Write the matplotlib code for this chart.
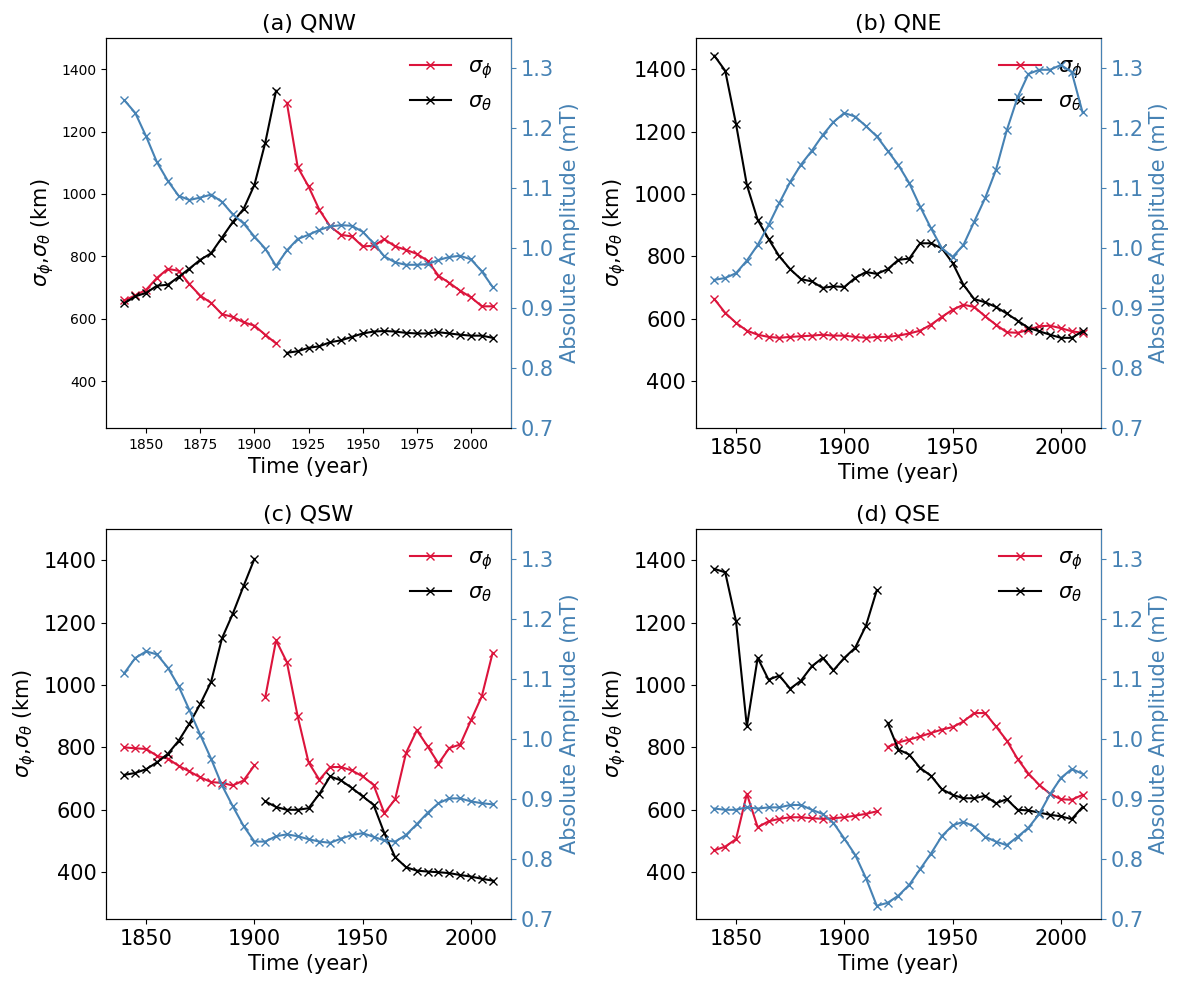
import numpy as np
import matplotlib
matplotlib.use('Agg')
from matplotlib import pyplot as plt


years = np.arange(1840, 2011, 5)

# (a) QNW
qnw_phi = [659, 675, 693, 731, 760, 754, 711, 674, 651, 615, 606, 589, 578, 549, 521,
           1292, 1086, 1024, 949, 896, 869, 864, 832, 834, 855, 832, 821, 808, 786, 738,
           715, 690, 669, 640, 640]
qnw_theta = [650, 672, 683, 706, 709, 734, 761, 789, 810, 860, 910, 952, 1029, 1164, 1331,
             491, 496, 507, 512, 525, 531, 542, 553, 559, 561, 559, 555, 553, 553, 557,
             553, 549, 546, 546, 539]
qnw_amp = [1.246, 1.225, 1.186, 1.143, 1.112, 1.087, 1.080, 1.084, 1.089, 1.077, 1.056,
           1.041, 1.019, 0.999, 0.970, 0.996, 1.015, 1.022, 1.030, 1.036, 1.038, 1.037,
           1.027, 1.008, 0.986, 0.976, 0.972, 0.972, 0.973, 0.980, 0.985, 0.987, 0.981,
           0.961, 0.935]

# (b) QNE
qne_phi = [663, 619, 587, 562, 549, 542, 539, 542, 544, 546, 549, 546, 546, 542, 539,
           542, 542, 546, 553, 562, 581, 606, 629, 645, 638, 608, 581, 557, 555, 565,
           576, 578, 570, 560, 555]
qne_theta = [1443, 1395, 1224, 1029, 917, 856, 800, 759, 727, 720, 699, 704, 702, 731, 750,
             744, 759, 789, 793, 842, 842, 826, 779, 709, 663, 653, 638, 617, 594, 571,
             560, 549, 539, 539, 560]
qne_amp = [0.947, 0.950, 0.958, 0.979, 1.005, 1.038, 1.075, 1.110, 1.139, 1.162, 1.188,
           1.210, 1.225, 1.219, 1.203, 1.186, 1.162, 1.138, 1.108, 1.069, 1.033, 1.000,
           0.985, 1.005, 1.044, 1.083, 1.130, 1.196, 1.251, 1.290, 1.297, 1.297, 1.305,
           1.293, 1.226]

# (c) QSW
qsw_phi = [800, 797, 795, 773, 764, 741, 723, 704, 689, 686, 678, 694, 742,
           960, 1143, 1073, 899, 752, 696, 737, 737, 726, 707, 680, 589, 634, 782, 855,
           803, 748, 798, 809, 887, 964, 1103]
qsw_theta = [712, 718, 730, 752, 779, 821, 876, 939, 1010, 1149, 1228, 1317, 1404,
             627, 609, 600, 600, 605, 651, 707, 694, 670, 643, 616, 525, 448, 416, 405,
             402, 400, 397, 391, 386, 379, 373]
qsw_amp = [1.110, 1.135, 1.146, 1.141, 1.119, 1.088, 1.048, 1.007, 0.967, 0.923, 0.888,
           0.855, 0.829, 0.829, 0.838, 0.841, 0.838, 0.833, 0.829, 0.827, 0.834, 0.840,
           0.843, 0.837, 0.831, 0.829, 0.840, 0.858, 0.877, 0.893, 0.901, 0.901, 0.896,
           0.893, 0.891]

# (d) QSE
qse_phi = [470, 482, 506, 651, 544, 563, 571, 576, 576, 573, 571, 573, 576, 581, 587, 595,
           801, 816, 825, 835, 846, 857, 865, 883, 910, 910, 867, 822, 763, 716, 680,
           651, 634, 632, 648]
qse_theta = [1372, 1361, 1204, 867, 1087, 1017, 1030, 988, 1014, 1060, 1087, 1047, 1087,
             1119, 1190, 1304, 878, 793, 777, 734, 709, 666, 648, 637, 637, 645, 621, 634,
             600, 598, 591, 584, 579, 570, 609]
qse_amp = [0.884, 0.882, 0.882, 0.886, 0.884, 0.886, 0.886, 0.890, 0.890, 0.882, 0.875,
           0.860, 0.834, 0.807, 0.768, 0.722, 0.727, 0.739, 0.757, 0.783, 0.809, 0.838,
           0.856, 0.862, 0.854, 0.837, 0.829, 0.823, 0.837, 0.852, 0.875, 0.908, 0.935,
           0.950, 0.942]

titles = ['(a) QNW', '(b) QNE', '(c) QSW', '(d) QSE']
phis = [qnw_phi, qne_phi, qsw_phi, qse_phi]
thetas = [qnw_theta, qne_theta, qsw_theta, qse_theta]
amps = [qnw_amp, qne_amp, qsw_amp, qse_amp]
# last year before the two sigma curves break (None: no break)
breaks = [1910, None, 1900, 1915]

red = '#DC143C'
blue = '#4682B4'
fs = 15

fig = plt.figure(figsize=(11.77, 9.81), dpi=100)
boxes = [(0.0901, 0.5637), (0.5913, 0.5637), (0.0901, 0.0632), (0.5913, 0.0632)]

for i in range(4):
    ax = fig.add_axes([boxes[i][0], boxes[i][1], 0.3441, 0.3976])
    phi = np.array(phis[i], dtype=float)
    theta = np.array(thetas[i], dtype=float)
    if breaks[i] is None:
        segs = [years >= 0]
    else:
        segs = [years <= breaks[i], years > breaks[i]]
    for k, m in enumerate(segs):
        ax.plot(years[m], phi[m], color=red, marker='x', lw=1.5,
                label=r'$\sigma_\phi$' if k == 0 else None)
        ax.plot(years[m], theta[m], color='k', marker='x', lw=1.5,
                label=r'$\sigma_\theta$' if k == 0 else None)
    ax.set_ylim(250, 1500)
    ax.set_yticks([400, 600, 800, 1000, 1200, 1400])
    if i == 0:
        ax.set_xticks([1850, 1875, 1900, 1925, 1950, 1975, 2000])
        ax.tick_params(labelsize=10)
    else:
        ax.set_xticks([1850, 1900, 1950, 2000])
        ax.tick_params(labelsize=fs)
    ax.set_xlabel('Time (year)', fontsize=fs)
    ax.set_ylabel(r'$\sigma_\phi$,$\sigma_\theta$ (km)', fontsize=fs)
    ax.set_title(titles[i], fontsize=fs + 1)
    ax.legend(loc='upper right', frameon=False, fontsize=fs)

    ax2 = ax.twinx()
    ax2.plot(years, amps[i], color=blue, marker='x', lw=1.5)
    ax2.set_ylim(0.7, 1.35)
    ax2.set_yticks([0.7, 0.8, 0.9, 1.0, 1.1, 1.2, 1.3])
    ax2.tick_params(axis='y', colors=blue, labelsize=fs)
    ax2.spines['right'].set_color(blue)
    ax2.set_ylabel('Absolute Amplitude (mT)', color=blue, fontsize=fs)

plt.savefig('out.png', dpi=100)
